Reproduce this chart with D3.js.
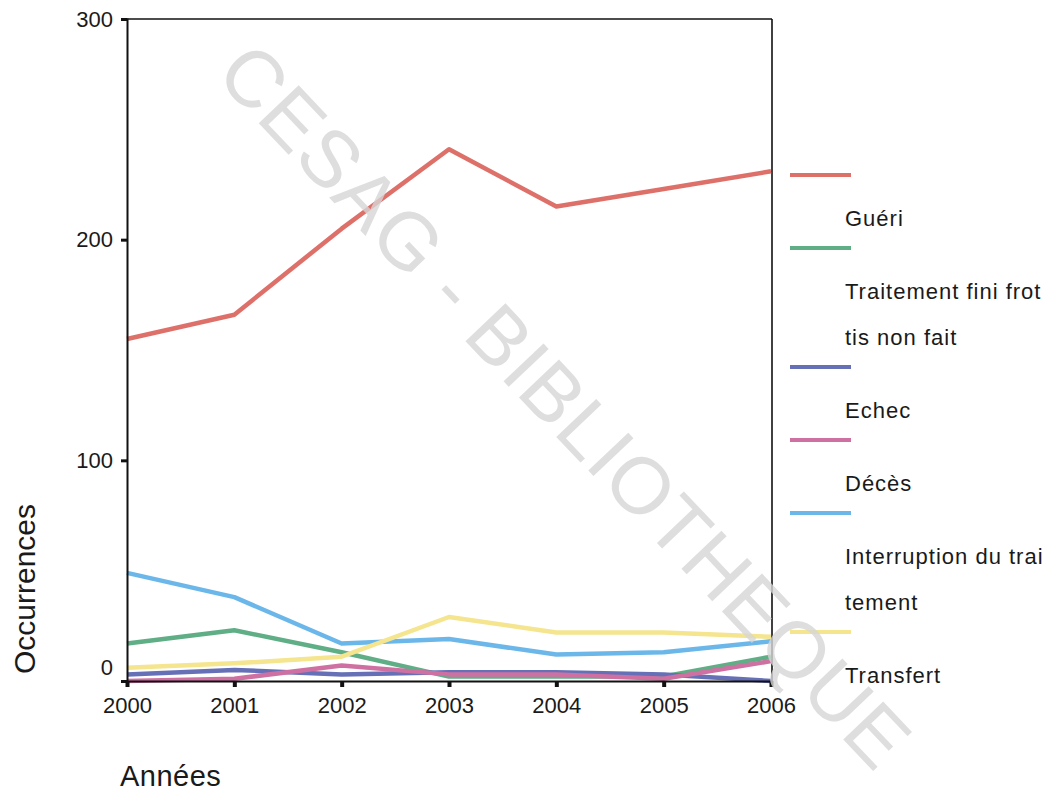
<!DOCTYPE html>
<html lang="fr">
<head>
<meta charset="utf-8">
<title>Occurrences par année</title>
<script src="https://cdn.jsdelivr.net/npm/d3@7"></script>
<style>
  html, body { margin: 0; padding: 0; background: #ffffff; }
  svg { display: block; }
  text { font-family: "Liberation Sans", Arial, Helvetica, sans-serif; fill: #1a1a1a; }
</style>
</head>
<body>
<svg id="chart" width="1053" height="795"></svg>
<script>
// Années observées
const years = [2000, 2001, 2002, 2003, 2004, 2005, 2006];

// Occurrences par issue de traitement
const gueri        = [155, 166, 205, 241, 215, 223, 231];
const traitFini    = [17, 23, 13, 2, 2, 2, 11];
const echec        = [3, 5, 3, 4, 4, 3, 0];
const deces        = [0, 1, 7, 3, 3, 1, 9];
const interruption = [49, 38, 17, 19, 12, 13, 18];
const transfert    = [6, 8, 11, 29, 22, 22, 20];

// Libellés de la légende (coupés sur plusieurs lignes)
const legendLabels = [
  ["Guéri"],
  ["Traitement fini frot", "tis non fait"],
  ["Echec"],
  ["Décès"],
  ["Interruption du trai", "tement"],
  ["Transfert"]
];
const seriesColors = ["#de706a", "#5fae86", "#6670b6", "#cf70a2", "#6cb7ea", "#f4e58e"];
const yTicks = [0, 100, 200, 300];

const seriesValues = [gueri, traitFini, echec, deces, interruption, transfert];
const series = seriesValues.map((vals, i) => ({
  name: legendLabels[i].join(""),
  color: seriesColors[i],
  points: vals.map((v, j) => ({ year: years[j], value: v }))
}));

const svg = d3.select("#chart");

const plot = { left: 127, right: 771, top: 19, bottom: 681 };
const x = d3.scaleLinear().domain([2000, 2006]).range([plot.left, plot.right]);
const y = d3.scaleLinear().domain([0, 300]).range([plot.bottom, plot.top]);

// Cadre : bord supérieur et bord droit
svg.append("line")
  .attr("x1", plot.left).attr("x2", plot.right + 1)
  .attr("y1", plot.top).attr("y2", plot.top)
  .attr("stroke", "#111").attr("stroke-width", 1.6);
svg.append("line")
  .attr("x1", plot.right + 1).attr("x2", plot.right + 1)
  .attr("y1", plot.top).attr("y2", plot.bottom)
  .attr("stroke", "#111").attr("stroke-width", 1.6);

// Courbes
const line = d3.line()
  .x(d => x(d.year))
  .y(d => y(d.value));

svg.append("g")
  .selectAll("path")
  .data(series)
  .join("path")
  .attr("d", d => line(d.points))
  .attr("fill", "none")
  .attr("stroke", d => d.color)
  .attr("stroke-width", 4.5)
  .attr("stroke-linejoin", "round");

// Axe vertical
const yAxis = svg.append("g")
  .attr("transform", `translate(${plot.left},0)`)
  .call(d3.axisLeft(y).tickValues(yTicks).tickFormat(d3.format("d")).tickSize(6).tickPadding(8));
yAxis.select(".domain").attr("stroke", "#111").attr("stroke-width", 2);
yAxis.selectAll(".tick line").attr("stroke", "#111").attr("stroke-width", 3);
yAxis.selectAll(".tick text")
  .attr("font-size", 22)
  .attr("fill", "#1a1a1a")
  .attr("dy", d => d === 0 ? "-0.28em" : "0.32em");

// Axe horizontal
const xAxis = svg.append("g")
  .attr("transform", `translate(0,${plot.bottom})`)
  .call(d3.axisBottom(x).tickValues(years).tickFormat(d3.format("d")).tickSize(6).tickPadding(10));
xAxis.select(".domain").attr("stroke", "#111").attr("stroke-width", 2);
xAxis.selectAll(".tick line").attr("stroke", "#111").attr("stroke-width", 4);
xAxis.selectAll(".tick text").attr("font-size", 22).attr("fill", "#1a1a1a");

// Titres des axes
svg.append("text")
  .attr("transform", "translate(35,589) rotate(-90)")
  .attr("text-anchor", "middle")
  .attr("font-size", 30)
  .text("Occurrences");

svg.append("text")
  .attr("x", 120).attr("y", 786)
  .attr("font-size", 29)
  .attr("letter-spacing", 0.5)
  .text("Années");

// Légende : trait puis libellé en dessous
const legend = svg.append("g").attr("transform", "translate(790,0)");
let cy = 175;
series.forEach((s, i) => {
  legend.append("line")
    .attr("x1", 0).attr("x2", 61)
    .attr("y1", cy).attr("y2", cy)
    .attr("stroke", s.color).attr("stroke-width", 4);
  legendLabels[i].forEach((txt, k) => {
    cy += k === 0 ? 43 : 46;
    legend.append("text")
      .attr("x", 55).attr("y", cy)
      .attr("dy", "0.35em")
      .attr("font-size", 22)
      .attr("letter-spacing", 1)
      .text(txt);
  });
  cy += 30;
});

// Filigrane de la bibliothèque
svg.append("text")
  .attr("transform", "translate(545,425) rotate(46.5)")
  .attr("text-anchor", "middle")
  .attr("font-size", 80)
  .attr("letter-spacing", 1)
  .style("fill", "#d6d6d6")
  .attr("fill-opacity", 0.8)
  .text("CESAG - BIBLIOTHEQUE");
</script>
</body>
</html>
